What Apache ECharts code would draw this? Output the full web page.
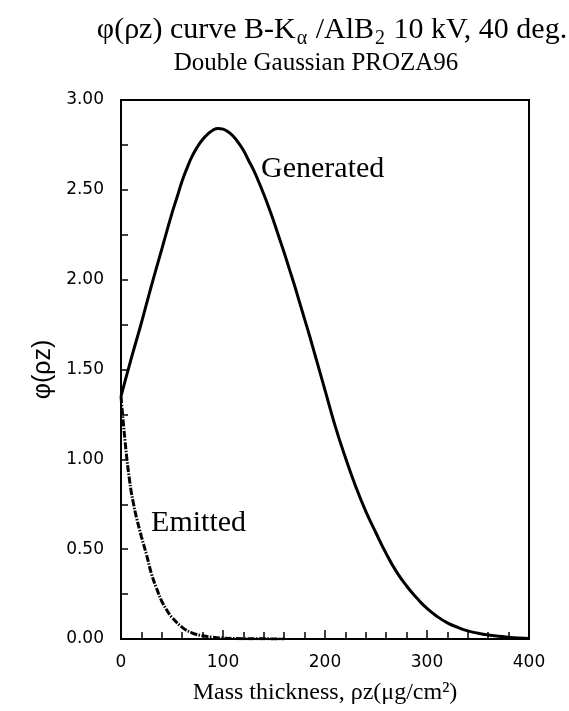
<!DOCTYPE html>
<html>
<head>
<meta charset="utf-8">
<script src="https://cdn.jsdelivr.net/npm/echarts@6/dist/echarts.min.js"></script>
<style>html,body{margin:0;padding:0;background:#fff}#c{width:569px;height:711px}</style>
</head>
<body>
<div id="c"></div>
<script>
// Data
const genX = [0, 10, 20, 30, 40, 50, 55, 60, 65, 70, 75, 80, 85, 90, 95, 100, 105, 110, 115, 120, 125, 130, 135, 140, 145, 150, 155, 160, 165, 170, 175, 180, 185, 190, 195, 200, 210, 220, 230, 240, 250, 260, 270, 280, 290, 300, 310, 320, 330, 340, 350, 360, 370, 380, 390, 400];
const genY = [1.35, 1.56, 1.76, 1.97, 2.17, 2.37, 2.46, 2.55, 2.625, 2.69, 2.74, 2.78, 2.81, 2.832, 2.842, 2.838, 2.823, 2.798, 2.763, 2.72, 2.665, 2.61, 2.545, 2.475, 2.40, 2.32, 2.235, 2.15, 2.06, 1.97, 1.875, 1.78, 1.685, 1.585, 1.485, 1.385, 1.185, 1.01, 0.85, 0.71, 0.59, 0.475, 0.375, 0.295, 0.228, 0.17, 0.125, 0.09, 0.065, 0.045, 0.032, 0.022, 0.015, 0.01, 0.006, 0.003];
const emiX = [0, 2, 4, 6, 8, 10, 12, 15, 20, 25, 30, 35, 40, 45, 50, 60, 70, 80, 90, 100, 120, 140, 160];
const emiY = [1.35, 1.22, 1.10, 0.99, 0.90, 0.82, 0.76, 0.68, 0.57, 0.47, 0.36, 0.28, 0.21, 0.16, 0.12, 0.065, 0.033, 0.018, 0.01, 0.005, 0.002, 0.001, 0];
const yTicks = ['0.00', '0.50', '1.00', '1.50', '2.00', '2.50', '3.00'];
const xTicks = ['0', '100', '200', '300', '400'];
const annotations = [
  { text: 'Generated', x: 137.3, y: 2.615, size: 30 },
  { text: 'Emitted', x: 29.5, y: 0.645, size: 30 }
];

const chart = echarts.init(document.getElementById('c'), null, { renderer: 'canvas' });
const serif = '"Liberation Serif", "Times New Roman", serif';
const sans = '"DejaVu Sans", sans-serif';
const sans2 = '"Liberation Sans", Arial, sans-serif';

const option = {
  backgroundColor: '#fff',
  animation: false,
  title: [{
    text: '{a|φ(ρz) curve B-K}{s|α}{a| /AlB}{s|2}{a| 10 kV, 40 deg.}',
    left: 327, top: 6, textAlign: 'center',
    textStyle: {
      fontWeight: 'normal',
      rich: {
        a: { fontFamily: serif, fontSize: 30, color: '#000', fontWeight: 'normal' },
        s: { fontFamily: serif, fontSize: 20, color: '#000', fontWeight: 'normal', verticalAlign: 'bottom', padding: [18, 1, 0, 1] }
      }
    }
  }, {
    text: 'Double Gaussian PROZA96',
    left: 311, top: 46, textAlign: 'center',
    textStyle: { fontFamily: serif, fontSize: 25, fontWeight: 'normal', color: '#000' }
  }],
  grid: { left: 121, right: 40, top: 100, bottom: 72, show: true, borderColor: '#000', borderWidth: 2, backgroundColor: 'transparent' },
  xAxis: {
    type: 'value', min: 0, max: 400, interval: 100,
    name: 'Mass thickness, ρz(μg/cm²)', nameLocation: 'middle', nameGap: 42,
    nameTextStyle: { fontFamily: serif, fontSize: 24, color: '#000' },
    axisLine: { show: true, lineStyle: { color: '#000', width: 2 } },
    axisTick: { show: true, inside: true, length: 9, lineStyle: { color: '#000', width: 1.5 } },
    minorTick: { show: true, splitNumber: 5, length: 7, lineStyle: { color: '#000', width: 1.5 } },
    splitLine: { show: false },
    axisLabel: { fontFamily: sans, fontSize: 17, color: '#000', margin: 15,
      formatter: v => xTicks[Math.round(v / 100)] }
  },
  yAxis: {
    type: 'value', min: 0, max: 3, interval: 0.5,
    name: 'φ(ρz)', nameLocation: 'middle', nameGap: 64,
    nameTextStyle: { fontFamily: sans2, fontSize: 25, color: '#000' },
    axisLine: { show: true, lineStyle: { color: '#000', width: 2 } },
    axisTick: { show: true, inside: true, length: 7, lineStyle: { color: '#000', width: 1.5 } },
    minorTick: { show: true, splitNumber: 2, length: 7, lineStyle: { color: '#000', width: 1.5 } },
    splitLine: { show: false },
    axisLabel: { fontFamily: sans, fontSize: 17, color: '#000', margin: 17,
      formatter: v => yTicks[Math.round(v * 2)] }
  },
  series: [{
    name: 'Generated', type: 'line', smooth: 0.5, symbol: 'none',
    data: genX.map((x, i) => [x, genY[i]]),
    lineStyle: { color: '#000', width: 3 }
  }, {
    name: 'Emitted', type: 'line', smooth: 0.4, symbol: 'none',
    data: emiX.map((x, i) => [x, emiY[i]]),
    lineStyle: { color: '#000', width: 3, type: [7, 1.5, 1.5, 1.5] }
  }]
};
chart.setOption(option);

const g = annotations.map(a => {
  const p = chart.convertToPixel({ gridIndex: 0 }, [a.x, a.y]);
  return { type: 'text', x: p[0], y: p[1],
    style: { text: a.text, font: a.size + 'px ' + serif, fill: '#000', textVerticalAlign: 'middle', textAlign: 'left' } };
});
chart.setOption({ graphic: g });
</script>
</body>
</html>
